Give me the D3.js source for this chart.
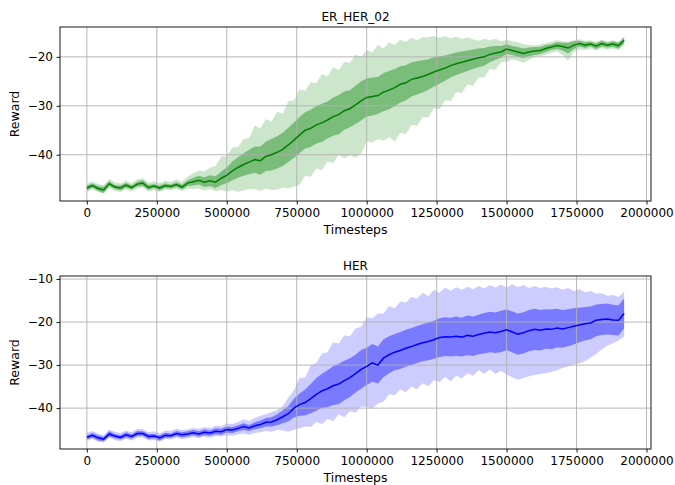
<!DOCTYPE html>
<html><head><meta charset="utf-8">
<script src="https://cdn.jsdelivr.net/npm/d3@7"></script>
<style>body{margin:0;background:#fff}svg{display:block}text{font-family:"DejaVu Sans",sans-serif;fill:#000}</style>
</head><body><svg id="c" width="675" height="485"></svg>
<script>
const timesteps = [0,20000,40000,60000,80000,100000,120000,140000,160000,180000,
200000,220000,240000,260000,280000,300000,320000,340000,360000,380000,
400000,420000,440000,460000,480000,500000,520000,540000,560000,580000,
600000,620000,640000,660000,680000,700000,720000,740000,760000,780000,
800000,820000,840000,860000,880000,900000,920000,940000,960000,980000,
1000000,1020000,1040000,1060000,1080000,1100000,1120000,1140000,1160000,1180000,
1200000,1220000,1240000,1260000,1280000,1300000,1320000,1340000,1360000,1380000,
1400000,1420000,1440000,1460000,1480000,1500000,1520000,1540000,1560000,1580000,
1600000,1620000,1640000,1660000,1680000,1700000,1720000,1740000,1760000,1780000,
1800000,1820000,1840000,1860000,1880000,1900000,1920000];

const erMean = [-46.8,-46.3,-46.9,-47.2,-45.9,-46.6,-46.8,-46.2,-46.7,-46.0,
-45.8,-46.7,-46.4,-46.8,-46.3,-46.5,-46.1,-46.6,-45.8,-45.5,
-45.2,-45.6,-45.3,-45.6,-44.8,-44.2,-43.3,-42.6,-42.0,-41.5,
-41.0,-41.2,-40.3,-40.0,-39.5,-38.9,-38.0,-37.0,-36.0,-35.0,
-34.6,-33.9,-33.5,-32.9,-32.2,-31.8,-31.0,-30.6,-29.8,-29.0,
-28.3,-28.1,-27.9,-27.2,-26.8,-26.3,-25.6,-25.3,-24.6,-24.3,
-24.0,-23.6,-23.1,-22.7,-22.3,-21.8,-21.4,-21.1,-20.8,-20.5,
-20.2,-20.0,-19.5,-19.2,-19.0,-18.4,-18.7,-19.0,-19.3,-19.0,
-18.8,-18.7,-18.3,-18.0,-17.7,-17.9,-18.2,-17.6,-17.3,-17.6,
-17.4,-17.8,-17.3,-17.6,-17.4,-17.7,-16.6];
const erStd = [0.5,0.4,0.5,0.6,0.5,0.4,0.5,0.5,0.4,0.5,
0.6,0.5,0.4,0.5,0.5,0.4,0.5,0.5,0.6,0.8,
0.9,1.0,1.1,1.2,1.4,1.6,1.9,2.1,2.3,2.5,
2.7,2.9,3.0,3.2,3.3,3.4,3.5,3.6,3.7,3.7,
3.8,3.8,3.9,3.8,3.9,4.0,3.9,3.8,3.9,4.0,
3.9,3.9,3.8,3.9,3.9,3.8,3.7,3.6,3.5,3.4,
3.3,3.1,3.0,2.8,2.6,2.4,2.3,2.2,2.1,2.0,
1.9,1.8,1.6,1.4,1.2,1.0,0.9,1.0,1.0,0.9,
0.8,0.7,0.7,0.6,0.7,0.8,1.1,0.8,0.6,0.6,
0.5,0.6,0.6,0.5,0.6,0.6,0.6];
const erMax = [-45.9,-45.4,-46.0,-46.2,-44.9,-45.6,-45.9,-45.2,-45.8,-45.0,
-44.8,-45.7,-45.4,-45.8,-45.3,-45.5,-45.0,-45.5,-44.5,-43.8,
-43.2,-43.4,-42.6,-42.3,
-40.4,-40.2,-38.5,-38.4,-36.8,-36.6,-34.0,-34.6,-32.7,-33.2,
-31.2,-31.6,-29.0,-28.9,-26.6,-27.0,-25.2,-25.4,-23.5,-24.0,
-22.1,-22.7,-21.0,-21.2,-19.5,-20.0,-18.6,-19.1,-17.6,-18.3,
-17.0,-17.6,-16.5,-16.9,-16.1,-16.6,-16.0,
-16.0,-15.7,-16.1,-15.8,-16.2,-15.9,-16.3,-16.0,-16.4,
-16.7,-16.3,-16.6,-16.3,-16.8,-16.5,-16.8,-17.0,-17.4,-17.6,
-17.7,-17.5,-17.2,-16.9,-16.6,-16.8,-16.9,-16.6,-16.4,-16.7,
-16.6,-16.9,-16.5,-16.8,-16.6,-16.9,-15.9];
const erMin = [-47.5,-47.1,-47.6,-47.9,-46.8,-47.4,-47.6,-47.1,-47.5,-46.9,
-46.7,-47.5,-47.2,-47.6,-47.1,-47.3,-46.9,-47.4,-46.9,-47.0,
-46.9,-47.3,-47.0,-47.4,-47.2,-47.5,-47.2,-47.6,-47.3,-47.0,
-47.0,-47.4,-46.9,-47.2,-47.1,-46.7,-46.9,-46.5,
-46.2,-44.3,-44.5,-42.8,-43.1,-41.4,-41.7,-40.0,-40.7,-40.1,
-40.6,-39.8,-37.3,-37.5,-36.8,-37.1,-36.4,-37.3,-35.5,-35.8,
-33.9,-34.1,-32.3,-32.4,-30.5,-30.7,-28.9,-29.0,-27.2,-27.4,
-25.6,-25.9,-24.2,-24.2,-22.5,-22.7,-21.1,-21.0,
-20.5,-20.8,-21.2,-20.6,-20.0,-19.9,-19.5,-19.2,-18.9,-19.6,
-20.8,-19.0,-18.5,-18.6,-18.3,-18.7,-18.2,-18.5,-18.3,-18.6,-17.6];

const herMean = [-46.8,-46.3,-46.9,-47.2,-46.0,-46.5,-46.8,-46.2,-46.6,-45.9,
-45.9,-46.6,-46.5,-46.9,-46.3,-46.4,-45.9,-46.2,-46.0,-45.7,
-46.0,-45.6,-45.8,-45.4,-45.5,-45.0,-45.1,-44.7,-44.3,-44.6,
-44.1,-43.8,-43.3,-43.2,-42.7,-42.0,-41.3,-40.0,-39.2,-38.7,
-37.8,-36.8,-36.0,-35.5,-34.8,-34.4,-33.6,-32.9,-32.0,-31.0,
-30.3,-29.5,-30.0,-28.4,-27.6,-27.0,-26.6,-26.1,-25.7,-25.2,
-24.8,-24.5,-24.1,-23.6,-23.4,-23.5,-23.3,-23.5,-23.1,-23.3,
-22.9,-22.6,-22.3,-22.5,-22.2,-21.8,-22.3,-22.8,-22.5,-22.0,
-21.7,-21.9,-21.6,-21.7,-21.4,-21.6,-21.3,-21.0,-20.7,-20.4,
-20.2,-19.6,-19.4,-19.3,-19.5,-19.6,-18.0];
const herStd = [0.5,0.5,0.6,0.5,0.6,0.5,0.5,0.6,0.5,0.6,
0.5,0.6,0.5,0.6,0.6,0.5,0.6,0.6,0.6,0.6,
0.6,0.7,0.6,0.7,0.7,0.7,0.7,0.7,0.8,0.7,
0.8,0.9,1.0,1.1,1.3,1.5,1.8,2.2,2.6,3.0,
3.4,3.8,4.0,4.3,4.5,4.7,4.6,4.5,4.4,4.5,
4.3,4.4,4.3,4.4,4.3,4.2,4.3,4.3,4.3,4.3,
4.3,4.4,4.4,4.5,4.5,4.5,4.6,4.5,4.6,4.6,
4.6,4.7,4.7,4.7,4.8,4.7,4.8,4.8,4.8,4.8,
4.8,4.7,4.6,4.6,4.5,4.4,4.3,4.2,4.0,3.9,
3.8,3.7,3.6,3.6,3.5,3.5,3.5];
const herMax = [-45.8,-45.3,-45.9,-46.3,-45.0,-45.5,-45.8,-45.2,-45.6,-44.8,
-44.9,-45.6,-45.4,-45.9,-45.2,-45.3,-44.8,-45.1,-44.9,-44.6,
-44.8,-44.4,-44.6,-44.1,-44.2,-43.6,-43.7,-43.2,-42.6,-43.0,
-42.3,-41.8,-41.4,-40.9,-40.5,-39.5,
-37.6,-35.9,-33.0,-32.9,-30.1,-29.5,-27.3,-27.0,-24.7,-25.0,
-23.1,-23.3,-21.5,-21.1,-18.9,-19.1,-18.0,-18.1,-16.3,-16.8,
-15.2,-15.5,-14.1,-14.6,-13.2,-14.0,-12.5,-13.2,-12.0,-12.7,
-11.9,-12.5,-11.8,-12.4,-11.6,-12.2,-11.4,-12.0,-11.3,-12.0,
-11.2,-11.9,-11.4,-12.1,-11.6,-12.1,-11.8,-12.2,-11.9,-12.5,
-12.1,-12.8,-12.4,-13.1,-12.8,-13.4,-13.3,-13.9,-13.7,-14.2,-12.9];
const herMin = [-47.6,-47.2,-47.8,-48.0,-46.9,-47.4,-47.7,-47.1,-47.5,-46.9,
-46.8,-47.5,-47.4,-47.8,-47.2,-47.3,-46.9,-47.2,-47.0,-46.7,
-47.0,-46.6,-46.9,-46.5,-46.6,-46.3,-46.4,-46.1,-45.9,-46.2,
-45.8,-45.6,-45.3,-45.5,-45.0,-45.2,-45.5,-45.0,-44.7,-44.3,
-44.4,-43.2,-43.7,-42.5,-43.0,-41.5,-42.1,-40.7,-41.1,-39.6,
-39.7,-40.1,-38.9,-38.5,-36.8,-37.0,-35.7,-36.3,-35.0,-35.6,
-34.2,-34.9,-33.5,-34.0,-32.7,-33.8,-32.5,-33.1,-31.9,-32.5,
-31.2,-32.0,-31.0,-32.0,-31.4,-32.2,
-32.8,-33.4,-33.0,-32.6,-32.3,-32.1,-31.9,-31.6,-31.2,-30.7,
-30.3,-29.8,-29.6,-29.1,-28.3,-27.4,-26.3,-25.5,-24.9,-24.3,-23.4];

const xTicks = [0,250000,500000,750000,1000000,1250000,1500000,1750000,2000000];
const erYTicks = [-40,-30,-20];
const herYTicks = [-40,-30,-20,-10];
const xLimits = [-96000, 2016000];
const erYLimits = [-49.45, -13.9];
const herYLimits = [-49.5, -9.3];
const titles = ["ER_HER_02", "HER"];
const xLabel = "Timesteps";
const yLabel = "Reward";

const svg = d3.select("#c");
const L = 60, R = 651;

function panel(o) {
  const g = svg.append("g");
  const x = d3.scaleLinear().domain(xLimits).range([L, R]);
  const y = d3.scaleLinear().domain(o.yLim).range([o.bottom, o.top]);
  const rows = timesteps.map((t, i) => ({t, m: o.mean[i], s: o.std[i], lo: o.min[i], hi: o.max[i]}));
  g.append("path").datum(rows)
    .attr("d", d3.area().x(d => x(d.t)).y0(d => y(d.lo)).y1(d => y(d.hi)))
    .attr("fill", o.color).attr("fill-opacity", 0.2);
  g.append("path").datum(rows)
    .attr("d", d3.area().x(d => x(d.t)).y0(d => y(d.m - d.s)).y1(d => y(d.m + d.s)))
    .attr("fill", o.color).attr("fill-opacity", 0.4);
  g.append("g").selectAll("line").data(xTicks).join("line")
    .attr("x1", d => x(d)).attr("x2", d => x(d)).attr("y1", o.top).attr("y2", o.bottom)
    .attr("stroke", "#b0b0b0").attr("stroke-width", 0.9);
  g.append("g").selectAll("line").data(o.yTicks).join("line")
    .attr("x1", L).attr("x2", R).attr("y1", d => y(d)).attr("y2", d => y(d))
    .attr("stroke", "#b0b0b0").attr("stroke-width", 0.9);
  g.append("path").datum(rows)
    .attr("d", d3.line().x(d => x(d.t)).y(d => y(d.m)))
    .attr("fill", "none").attr("stroke", o.color).attr("stroke-width", 1.5);
  g.append("rect").attr("x", L).attr("y", o.top).attr("width", R - L).attr("height", o.bottom - o.top)
    .attr("fill", "none").attr("stroke", "#000").attr("stroke-width", 0.9);
  const ax = g.append("g").attr("transform", `translate(0,${o.bottom})`)
    .call(d3.axisBottom(x).tickValues(xTicks).tickSize(3.5).tickPadding(3.5).tickFormat(d3.format("d")));
  const ay = g.append("g").attr("transform", `translate(${L},0)`)
    .call(d3.axisLeft(y).tickValues(o.yTicks).tickSize(3.5).tickPadding(3.5)
      .tickFormat(d => d < 0 ? "\u2212" + Math.abs(d) : String(d)));
  [ax, ay].forEach(a => {
    a.select(".domain").remove();
    a.selectAll("text").attr("font-size", 12).attr("font-family", "DejaVu Sans").attr("fill", "#000");
    a.selectAll("line").attr("stroke", "#000").attr("stroke-width", 0.9);
  });
  g.append("text").attr("x", (L + R) / 2).attr("y", o.top - 6).attr("text-anchor", "middle")
    .attr("font-size", 12).text(o.title);
  g.append("text").attr("x", (L + R) / 2).attr("y", o.bottom + 33).attr("text-anchor", "middle")
    .attr("font-size", 12.5).text(xLabel);
  g.append("text").attr("transform", `translate(19,${(o.top + o.bottom) / 2}) rotate(-90)`)
    .attr("text-anchor", "middle").attr("font-size", 12.5).text(yLabel);
}

panel({top: 27, bottom: 201, yLim: erYLimits, yTicks: erYTicks, mean: erMean, std: erStd,
  min: erMin, max: erMax, color: "#008000", title: titles[0]});
panel({top: 276, bottom: 449, yLim: herYLimits, yTicks: herYTicks, mean: herMean, std: herStd,
  min: herMin, max: herMax, color: "#0000ff", title: titles[1]});
</script></body></html>
